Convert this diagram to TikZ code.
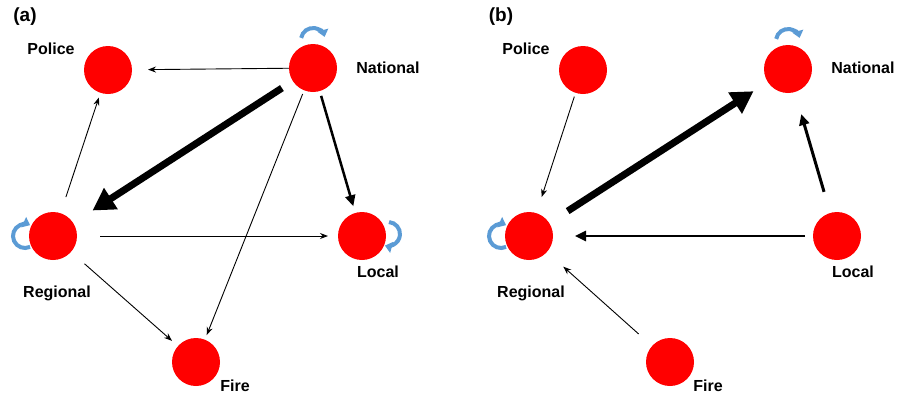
\documentclass[tikz,border=0pt]{standalone}
\usepackage{fontspec}
\setmainfont{Liberation Sans}
\usetikzlibrary{arrows.meta}
\definecolor{loopblue}{RGB}{91,155,213}
\begin{document}
\begin{tikzpicture}[x=1pt,y=1pt,
  actor/.style={circle,fill=red,minimum size=48pt,inner sep=0pt,outer sep=0pt},
  lbl/.style={font=\fontsize{16}{18}\selectfont\bfseries,inner sep=0pt},
  panel/.style={font=\fontsize{19}{21}\selectfont\bfseries,inner sep=0pt},
  thin/.style={line width=0.9pt,-{Stealth[length=8pt,width=6pt]}},
  medium/.style={line width=2.5pt,-{Triangle[length=11pt,width=10pt]}},
  heavy/.style={line width=7pt,-{Triangle[length=22pt,width=24pt]}},
  selfloop/.style={loopblue,line width=4pt,-{Triangle[length=7pt,width=11pt]}}]
\useasboundingbox (0,0) rectangle (898,-397);

% ---------- panel (a) ----------
\node[panel] (ta) at (25,-17) {(a)};
\node[actor] (pa) at (108,-70) {};
\node[actor] (na) at (313,-68) {};
\node[actor] (ra) at (53,-236) {};
\node[actor] (la) at (362,-236) {};
\node[actor] (fa) at (196,-362) {};
\node[lbl] at (51,-49) {Police};
\node[lbl] at (388,-68) {National};
\node[lbl] at (57,-293) {Regional};
\node[lbl] at (378,-272) {Local};
\node[lbl] at (235,-386) {Fire};

\draw[thin,shorten >=16pt] (na) -- (pa);
\draw[heavy,shorten <=13pt,shorten >=23pt] (na) -- (ra);
\draw[medium,shorten <=5pt,shorten >=7pt] (na) -- (la);
\draw[thin,shorten <=4pt,shorten >=5pt] (na) -- (fa);
\draw[thin,shorten <=17pt,shorten >=5pt] (ra) -- (pa);
\draw[thin,shorten <=23pt,shorten >=10pt] (ra) -- (la);
\draw[thin,shorten <=18pt,shorten >=8pt] (ra) -- (fa);

\draw[selfloop] ([shift={(170:12)}]313,-40) arc[start angle=170,end angle=15,radius=12];
\draw[selfloop] ([shift={(85:12)}]388,-234) arc[start angle=85,end angle=-105,radius=12];
\draw[selfloop] ([shift={(-65:12)}]25,-236) arc[start angle=-65,end angle=-295,radius=12];

% ---------- panel (b) ----------
\node[panel] (tb) at (501,-17) {(b)};
\node[actor] (pb) at (583,-70) {};
\node[actor] (nb) at (788,-69) {};
\node[actor] (rb) at (529,-236) {};
\node[actor] (lb) at (837,-236) {};
\node[actor] (fb) at (670,-362) {};
\node[lbl] at (526,-49) {Police};
\node[lbl] at (863,-68) {National};
\node[lbl] at (531,-293) {Regional};
\node[lbl] at (853,-272) {Local};
\node[lbl] at (708,-386) {Fire};

\draw[thin,shorten <=4pt,shorten >=17pt] (pb) -- (rb);
\draw[heavy,shorten <=22pt,shorten >=17pt] (rb) -- (nb);
\draw[medium,line width=3pt,shorten <=22pt,shorten >=23pt] (lb) -- (nb);
\draw[medium,shorten <=8pt,shorten >=22pt] (lb) -- (rb);
\draw[thin,shorten <=18pt,shorten >=22pt] (fb) -- (rb);

\draw[selfloop] ([shift={(170:12)}]788,-41) arc[start angle=170,end angle=15,radius=12];
\draw[selfloop] ([shift={(-65:12)}]501,-236) arc[start angle=-65,end angle=-295,radius=12];
\end{tikzpicture}
\end{document}
